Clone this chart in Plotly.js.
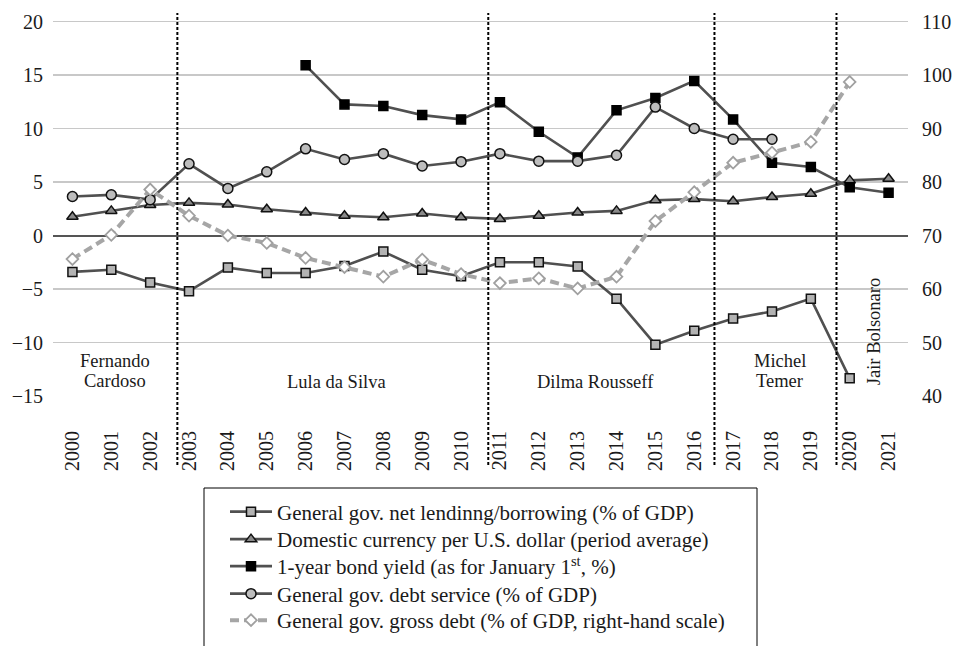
<!DOCTYPE html>
<html>
<head>
<meta charset="utf-8">
<script src="https://cdn.plot.ly/plotly-3.0.1.min.js"></script>
<style>html,body{margin:0;padding:0;background:#fff;}#chart{width:954px;height:646px;}</style>
</head>
<body>
<div id="chart"></div>
<script>
// ---- data ----
var years = [2000,2001,2002,2003,2004,2005,2006,2007,2008,2009,2010,2011,2012,2013,2014,2015,2016,2017,2018,2019,2020,2021];
var netLending = [-3.4,-3.2,-4.4,-5.2,-3.0,-3.5,-3.5,-2.85,-1.5,-3.2,-3.8,-2.5,-2.5,-2.9,-5.9,-10.2,-8.9,-7.75,-7.1,-5.9,-13.35,null];
var exchangeRate = [1.75,2.3,2.85,3.05,2.9,2.45,2.15,1.85,1.7,2.05,1.7,1.55,1.85,2.15,2.3,3.3,3.4,3.2,3.6,3.9,5.15,5.3];
var bondYield = [null,null,null,null,null,null,15.9,12.25,12.1,11.25,10.85,12.45,9.7,7.3,11.7,12.85,14.45,10.85,6.8,6.4,4.5,4.0];
var debtService = [3.65,3.8,3.35,6.7,4.4,5.95,8.1,7.1,7.65,6.5,6.9,7.65,6.95,6.95,7.5,12.0,10.0,9.0,9.0,null,null,null];
var grossDebt = [65.6,70.1,78.6,73.7,70.0,68.6,65.8,64.1,62.3,65.5,62.8,61.1,62.0,60.1,62.3,72.7,78.1,83.6,85.5,87.5,98.7,null];
var seriesNames = [
  "General gov. net lendinng/borrowing (% of GDP)",
  "Domestic currency per U.S. dollar (period average)",
  "1-year bond yield (as for January 1<sup>st</sup>, %)",
  "General gov. debt service (% of GDP)",
  "General gov. gross debt (% of GDP, right-hand scale)"
];
var presidentBreaks = [2002.7, 2010.7, 2016.52, 2019.66];
var presidents = [
  {lines:["Fernando","Cardoso"], x:2001.09},
  {lines:["Lula da Silva"], x:2006.8},
  {lines:["Dilma Rousseff"], x:2013.47},
  {lines:["Michel","Temer"], x:2018.2}
];
var bolsonaro = {text:"Jair Bolsonaro", x:2020.63};

// ---- layout helpers ----
var W = 954, H = 646;
var M = {l:53, r:46, t:20, b:249, autoexpand:false};
var plotH = H - M.t - M.b, plotW = W - M.l - M.r;
function py(px){ return (H - M.b - px) / plotH; }
function pxx(px){ return (px - M.l) / plotW; }
var FONT = 'Liberation Serif, Times New Roman, serif';
var lineCol = '#505050';
var legendIds = ['legend','legend2','legend3','legend4','legend5'];
var legendRowsPx = [512, 539.5, 566.5, 594, 620.5];

var traces = [
  {x:years, y:netLending, name:seriesNames[0], mode:'lines+markers',
   line:{color:lineCol, width:2.6},
   marker:{symbol:'square', size:9, color:'#b3b3b3', line:{color:'#111', width:1.5}}},
  {x:years, y:exchangeRate, name:seriesNames[1], mode:'lines+markers',
   line:{color:lineCol, width:2.6},
   marker:{symbol:'triangle-up', size:10, color:'#8a8a8a', line:{color:'#111', width:1.5}}},
  {x:years, y:bondYield, name:seriesNames[2], mode:'lines+markers',
   line:{color:lineCol, width:2.6},
   marker:{symbol:'square', size:9, color:'#000', line:{color:'#000', width:1.5}}},
  {x:years, y:debtService, name:seriesNames[3], mode:'lines+markers',
   line:{color:lineCol, width:2.6},
   marker:{symbol:'circle', size:10, color:'#bdbdbd', line:{color:'#111', width:1.5}}},
  {x:years, y:grossDebt, name:seriesNames[4], mode:'lines+markers', yaxis:'y2',
   line:{color:'#a6a6a6', width:4, dash:'9px,5px'},
   marker:{symbol:'diamond', size:9, color:'#fff', line:{color:'#a0a0a0', width:1.8}}}
];
traces.forEach(function(t, i){ t.legend = legendIds[i]; });

var shapes = presidentBreaks.map(function(b){
  return {type:'line', xref:'x', yref:'paper', x0:b, x1:b, y0:py(465), y1:py(13),
          line:{color:'#000', width:2, dash:'3px,2px'}, layer:'above'};
});
shapes.push({type:'rect', xref:'paper', yref:'paper', x0:pxx(204), x1:pxx(757), y0:py(660), y1:py(488),
             line:{color:'#000', width:1}, fillcolor:'rgba(0,0,0,0)'});

var annotations = [];
presidents.forEach(function(p){
  var ys = p.lines.length === 2 ? [361, 381] : [381.5];
  p.lines.forEach(function(t, i){
    annotations.push({text:t, x:p.x, xref:'x', yref:'paper', y:py(ys[i]), showarrow:false,
      xanchor:'center', yanchor:'middle', font:{family:FONT, size:18.5, color:'#1a1a1a'}});
  });
});
annotations.push({text:bolsonaro.text, x:bolsonaro.x, xref:'x', yref:'paper', y:py(332), showarrow:false,
  textangle:-90, xanchor:'center', yanchor:'middle', font:{family:FONT, size:18.5, color:'#1a1a1a'}});

var yMin = -15.093, yMax = 20.14;
var layout = {
  width:W, height:H, margin:M,
  paper_bgcolor:'#fff', plot_bgcolor:'#fff',
  font:{family:FONT, size:20, color:'#1a1a1a'},
  showlegend:true,
  xaxis:{range:[1999.5, 2021.5], tickmode:'array', tickvals:years, ticktext:years.map(String),
         tickangle:-90, showgrid:false, zeroline:false, showline:false, ticks:'',
         ticklabelstandoff:29, tickfont:{family:FONT, size:20, color:'#1a1a1a'}},
  yaxis:{range:[yMin, yMax], tickmode:'array', tickvals:[-15,-10,-5,0,5,10,15,20],
         showgrid:true, gridcolor:'#c8c8c8', gridwidth:1.5, zeroline:true, zerolinecolor:'#555',
         zerolinewidth:2, showline:false, ticks:'', ticklabelstandoff:9,
         tickfont:{family:FONT, size:20, color:'#1a1a1a'}},
  yaxis2:{range:[70+2*yMin, 70+2*yMax], overlaying:'y', side:'right', tickmode:'array',
          tickvals:[40,50,60,70,80,90,100,110], showgrid:false, zeroline:false, showline:false,
          ticks:'', ticklabelstandoff:13, tickfont:{family:FONT, size:20, color:'#1a1a1a'}},
  shapes:shapes, annotations:annotations
};
legendIds.forEach(function(id, i){
  layout[id] = {x:pxx(225), xanchor:'left', y:py(legendRowsPx[i]), yanchor:'middle',
    bgcolor:'rgba(0,0,0,0)', borderwidth:0, itemwidth:42,
    font:{family:FONT, size:21, color:'#1a1a1a'}};
});
Plotly.newPlot('chart', traces, layout, {staticPlot:true});
</script>
</body>
</html>
